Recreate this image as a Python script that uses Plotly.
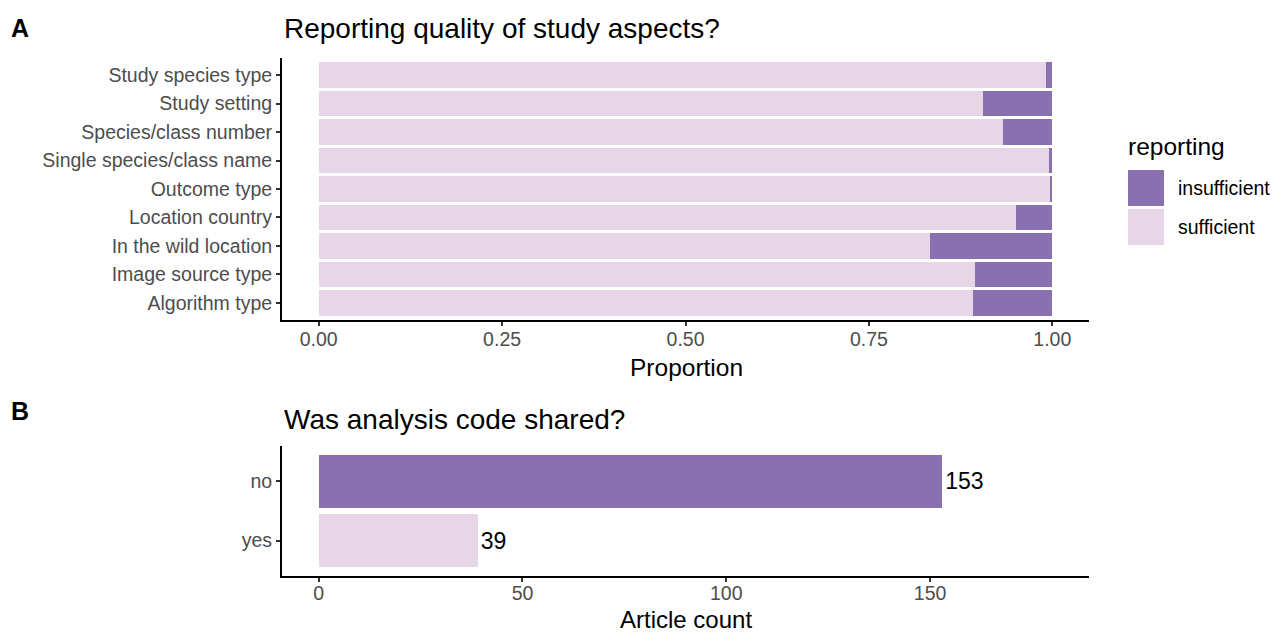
import plotly.graph_objects as go

# ---------------- data ----------------
aspects = ["Study species type", "Study setting", "Species/class number",
           "Single species/class name", "Outcome type", "Location country",
           "In the wild location", "Image source type", "Algorithm type"]
sufficient = [0.992, 0.906, 0.933, 0.996, 0.997, 0.950, 0.833, 0.894, 0.892]
insufficient = [0.008, 0.094, 0.067, 0.004, 0.003, 0.050, 0.167, 0.106, 0.108]

code_shared = ["no", "yes"]
article_count = [153, 39]

prop_ticks = [0, 0.25, 0.5, 0.75, 1.0]
prop_ticklabels = ["0.00", "0.25", "0.50", "0.75", "1.00"]
count_ticks = [0, 50, 100, 150]

# ---------------- style ----------------
W, H = 1278, 633
DARK = "#8870b1"
LIGHT = "#e7d5e8"
FONT = "Liberation Sans, Arial, Helvetica, sans-serif"
TICKCOL = "#4d4d4d"


def px_x(p):
    return p / W


def px_y(p):
    return 1 - p / H


fig = go.Figure()

# Panel A
fig.add_trace(go.Bar(y=aspects, x=sufficient, orientation="h", marker_color=LIGHT,
                     marker_line_width=0, name="sufficient", xaxis="x", yaxis="y",
                     showlegend=False))
fig.add_trace(go.Bar(y=aspects, x=insufficient, orientation="h", marker_color=DARK,
                     marker_line_width=0, name="insufficient", xaxis="x", yaxis="y",
                     showlegend=False))

# Panel B
fig.add_trace(go.Bar(y=code_shared, x=article_count, orientation="h",
                     marker_color=[DARK, LIGHT], marker_line_width=0,
                     text=[str(v) for v in article_count], textposition="outside",
                     textfont=dict(size=23, color="black", family=FONT),
                     cliponaxis=False, xaxis="x2", yaxis="y2", showlegend=False))

axis_common = dict(showline=True, linecolor="black", linewidth=2, ticks="outside",
                   ticklen=4, tickwidth=1.5, tickcolor="#333333", showgrid=False,
                   zeroline=False, tickfont=dict(size=19.5, color=TICKCOL, family=FONT))

fig.update_layout(
    width=W, height=H,
    margin=dict(l=0, r=0, t=0, b=0),
    paper_bgcolor="white", plot_bgcolor="white",
    barmode="stack", bargap=0.1,
    font=dict(family=FONT),
    xaxis=dict(domain=[px_x(282), px_x(1089)], range=[-0.05, 1.05],
               tickvals=prop_ticks, ticktext=prop_ticklabels, anchor="y",
               ticklabelstandoff=-3, **axis_common),
    yaxis=dict(domain=[px_y(320), px_y(58)], type="category",
               categoryorder="array", categoryarray=aspects[::-1],
               range=[-0.6, len(aspects) - 0.4], anchor="x", **axis_common),
    xaxis2=dict(domain=[px_x(282), px_x(1089)], range=[-9, 189],
                tickvals=count_ticks, anchor="y2", ticklabelstandoff=-5,
                **axis_common),
    yaxis2=dict(domain=[px_y(576), px_y(446)], type="category",
                categoryorder="array", categoryarray=code_shared[::-1],
                range=[-0.6, len(code_shared) - 0.4], anchor="x2", **axis_common),
)

annotations = [
    dict(text="<b>A</b>", x=px_x(9), y=px_y(28), xanchor="left", yanchor="middle",
         font=dict(size=25, color="black")),
    dict(text="<b>B</b>", x=px_x(9), y=px_y(411), xanchor="left", yanchor="middle",
         font=dict(size=25, color="black")),
    dict(text="Reporting quality of study aspects?", x=px_x(282), y=px_y(28),
         xanchor="left", yanchor="middle", font=dict(size=28, color="black")),
    dict(text="Was analysis code shared?", x=px_x(282), y=px_y(419),
         xanchor="left", yanchor="middle", font=dict(size=28, color="black")),
    dict(text="Proportion", x=px_x(686), y=px_y(367), xanchor="center",
         yanchor="middle", font=dict(size=24.5, color="black")),
    dict(text="Article count", x=px_x(686), y=px_y(619), xanchor="center",
         yanchor="middle", font=dict(size=24, color="black")),
    dict(text="reporting", x=px_x(1126), y=px_y(146), xanchor="left",
         yanchor="middle", font=dict(size=24.5, color="black")),
    dict(text="insufficient", x=px_x(1176), y=px_y(188), xanchor="left",
         yanchor="middle", font=dict(size=19.5, color="black")),
    dict(text="sufficient", x=px_x(1176), y=px_y(227), xanchor="left",
         yanchor="middle", font=dict(size=19.5, color="black")),
]
for a in annotations:
    a.update(xref="paper", yref="paper", showarrow=False)
    a["font"]["family"] = FONT
fig.update_layout(annotations=annotations)

# legend swatches
fig.update_layout(shapes=[
    dict(type="rect", xref="paper", yref="paper", x0=px_x(1128), x1=px_x(1164),
         y0=px_y(206), y1=px_y(170), fillcolor=DARK, line_width=0),
    dict(type="rect", xref="paper", yref="paper", x0=px_x(1128), x1=px_x(1164),
         y0=px_y(245), y1=px_y(209), fillcolor=LIGHT, line_width=0),
])

fig.write_html("out.html", config={"displayModeBar": False},
               post_script="document.body.style.margin='0';document.body.style.overflow='hidden';")
